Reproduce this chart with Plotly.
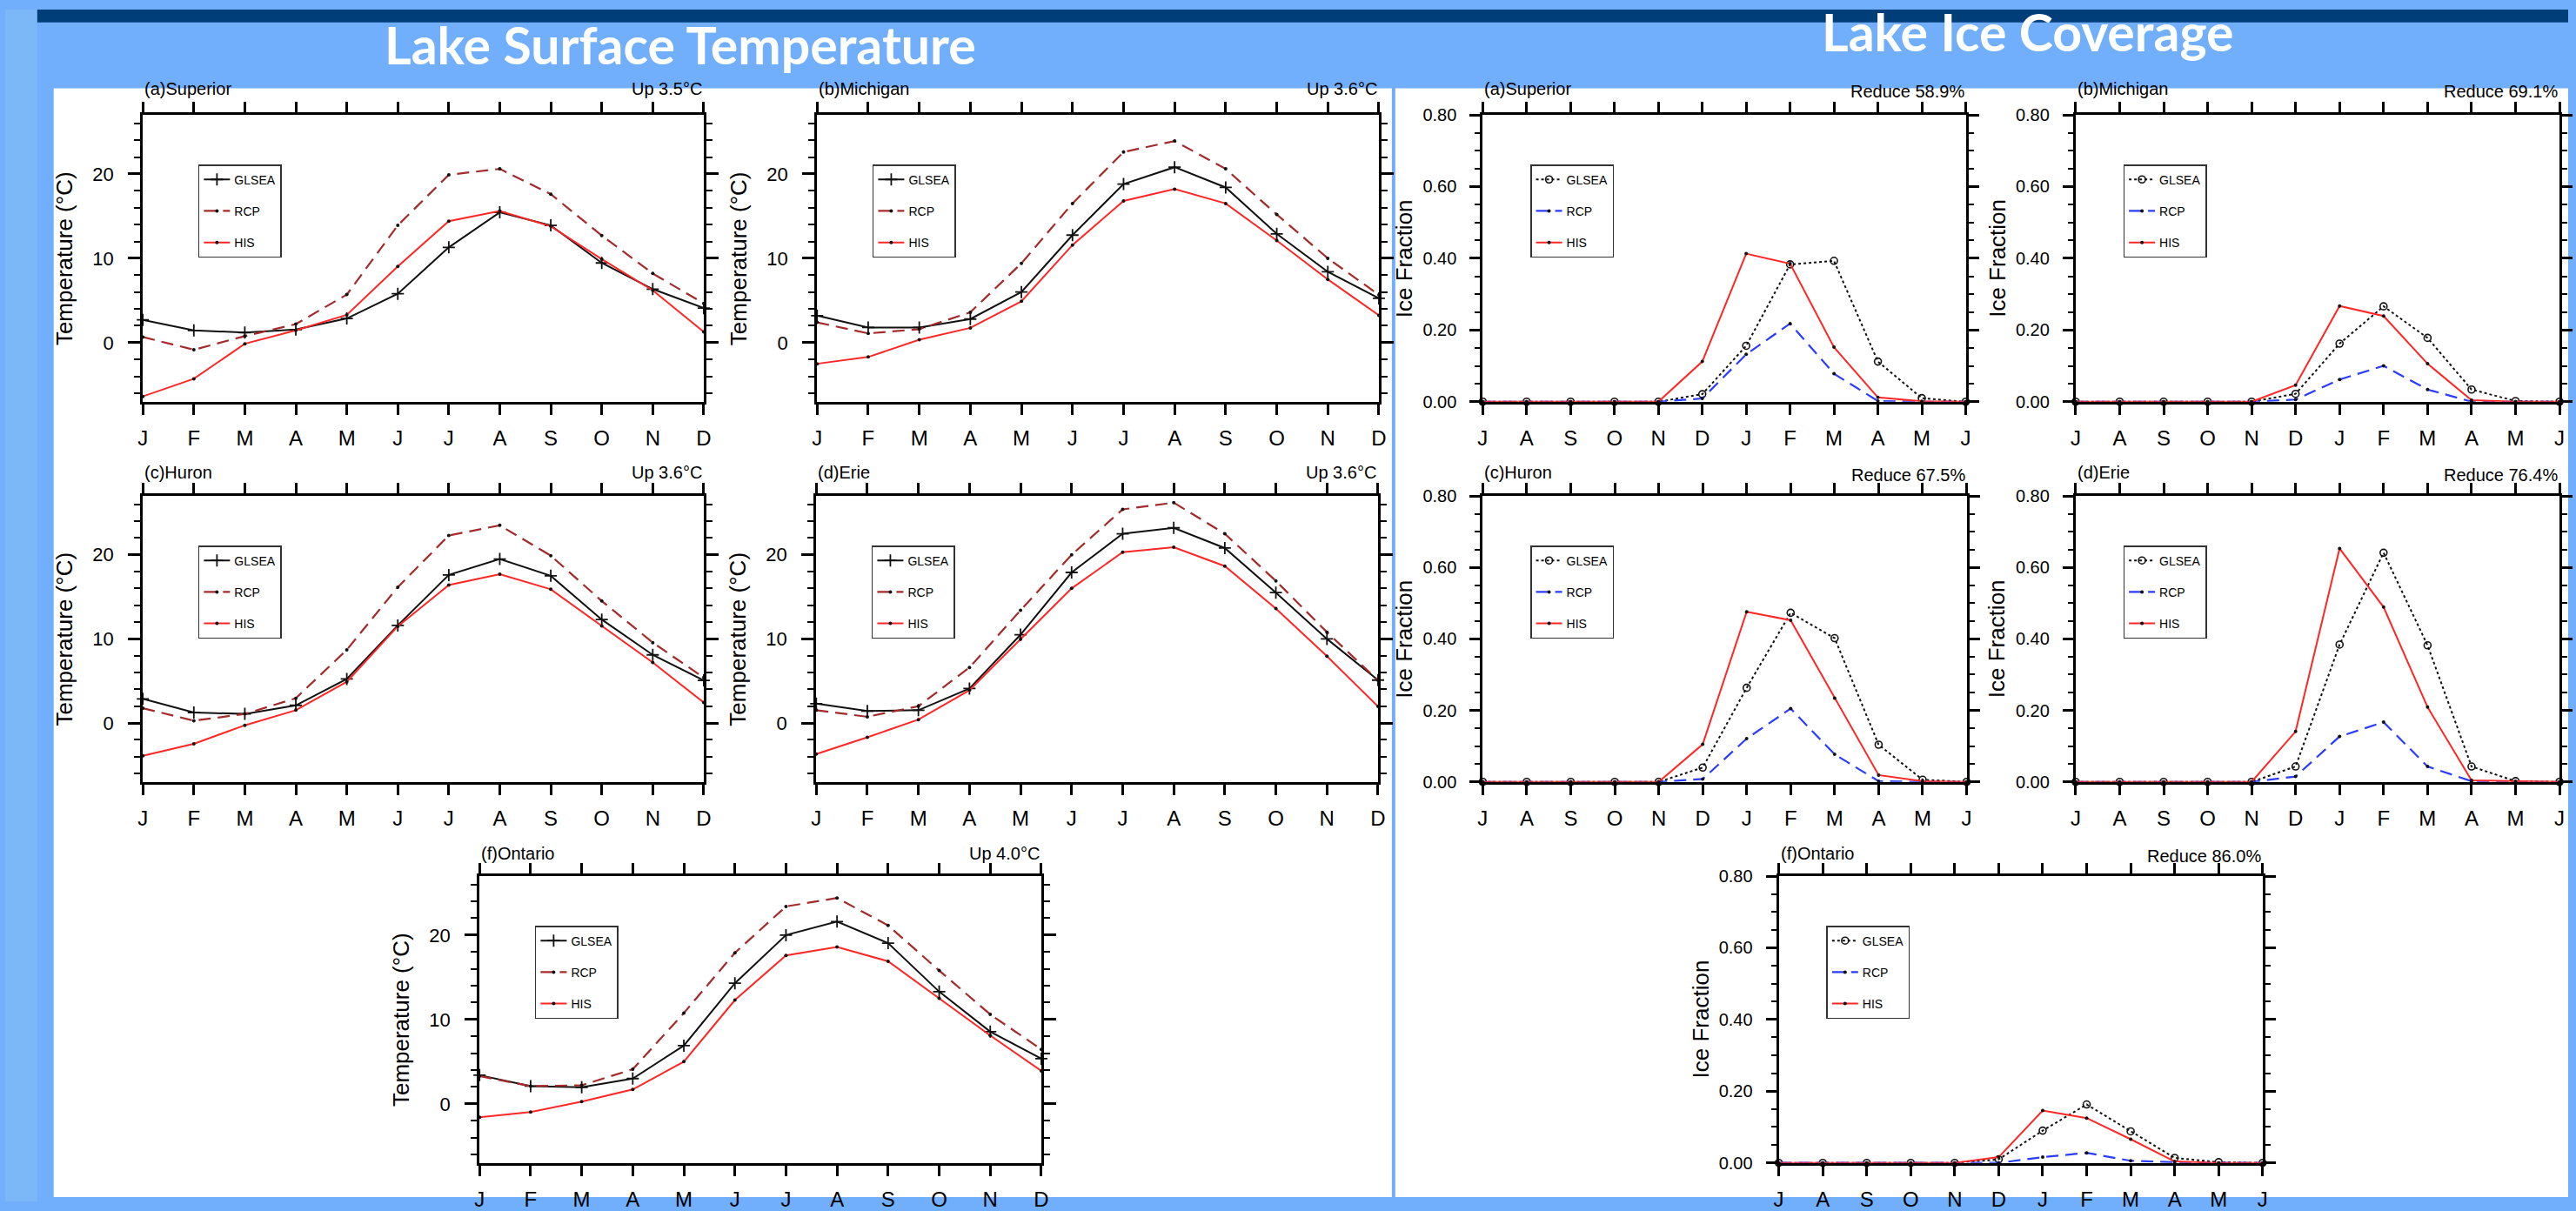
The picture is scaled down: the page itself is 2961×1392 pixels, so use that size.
import plotly.graph_objects as go

W, H = 2961, 1392
FONT = "Liberation Sans"

# ---------------- data ----------------
TEMP_MONTHS = ["J", "F", "M", "A", "M", "J", "J", "A", "S", "O", "N", "D"]
ICE_MONTHS = ["J", "A", "S", "O", "N", "D", "J", "F", "M", "A", "M", "J"]
SERIES = ["GLSEA", "RCP", "HIS"]

SUP_T_GLSEA = [2.7, 1.45, 1.2, 1.55, 2.87, 5.8, 11.3, 15.45, 13.9, 9.45, 6.35, 4.1]
SUP_T_RCP = [0.67, -0.84, 0.78, 2.2, 5.7, 13.9, 19.9, 20.6, 17.6, 12.7, 8.2, 4.65]
SUP_T_HIS = [-6.37, -4.28, -0.13, 1.45, 3.3, 9.04, 14.4, 15.6, 13.8, 9.9, 6.2, 1.28]

MIC_T_GLSEA = [3.2, 1.8, 1.8, 2.8, 6.0, 12.75, 18.8, 20.8, 18.4, 12.9, 8.4, 5.26]
MIC_T_RCP = [2.4, 1.1, 1.6, 3.6, 9.4, 16.5, 22.6, 23.9, 20.6, 15.2, 10.0, 5.67]
MIC_T_HIS = [-2.5, -1.7, 0.34, 1.75, 4.9, 11.57, 16.8, 18.2, 16.5, 12.1, 7.5, 3.24]

HUR_T_GLSEA = [2.87, 1.25, 1.08, 2.1, 5.24, 11.6, 17.6, 19.5, 17.5, 12.3, 8.1, 5.07]
HUR_T_RCP = [1.76, 0.27, 1.08, 2.94, 8.7, 16.15, 22.3, 23.5, 19.9, 14.5, 9.56, 5.4]
HUR_T_HIS = [-3.9, -2.47, -0.27, 1.52, 4.9, 11.5, 16.4, 17.7, 15.9, 11.55, 7.2, 2.43]

ERI_T_GLSEA = [2.3, 1.42, 1.52, 4.1, 10.5, 17.9, 22.5, 23.2, 20.8, 15.5, 10.0, 5.1]
ERI_T_RCP = [1.52, 0.74, 2.0, 6.6, 13.4, 20.0, 25.4, 26.2, 22.5, 16.9, 10.8, 5.07]
ERI_T_HIS = [-3.7, -1.7, 0.4, 3.9, 9.97, 16.0, 20.3, 20.9, 18.65, 13.6, 7.94, 1.96]

ONT_T_GLSEA = [3.4, 2.1, 1.96, 3.0, 6.9, 14.3, 20.0, 21.6, 19.05, 13.3, 8.56, 5.35]
ONT_T_RCP = [3.3, 2.1, 2.2, 4.1, 10.76, 17.9, 23.4, 24.4, 21.15, 15.8, 10.6, 6.46]
ONT_T_HIS = [-1.6, -0.98, 0.27, 1.7, 5.0, 12.3, 17.6, 18.6, 16.9, 12.5, 8.1, 3.9]

SUP_I_GLSEA = [0, 0, 0, 0, 0, 0.021, 0.156, 0.383, 0.393, 0.112, 0.010, 0]
SUP_I_RCP = [0, 0, 0, 0, 0, 0.009, 0.132, 0.218, 0.078, 0.002, 0, 0]
SUP_I_HIS = [0, 0, 0, 0, 0, 0.112, 0.413, 0.385, 0.152, 0.012, 0.001, 0]

MIC_I_GLSEA = [0, 0, 0, 0, 0, 0.022, 0.162, 0.266, 0.178, 0.034, 0.002, 0]
MIC_I_RCP = [0, 0, 0, 0, 0, 0.006, 0.062, 0.100, 0.034, 0, 0, 0]
MIC_I_HIS = [0, 0, 0, 0, 0, 0.046, 0.267, 0.239, 0.106, 0.004, 0, 0]

HUR_I_GLSEA = [0, 0, 0, 0, 0, 0.040, 0.263, 0.473, 0.402, 0.104, 0.006, 0]
HUR_I_RCP = [0, 0, 0, 0, 0, 0.008, 0.121, 0.205, 0.077, 0.002, 0, 0]
HUR_I_HIS = [0, 0, 0, 0, 0, 0.105, 0.476, 0.452, 0.234, 0.019, 0.002, 0]

ERI_I_GLSEA = [0, 0, 0, 0, 0, 0.043, 0.384, 0.641, 0.382, 0.043, 0.002, 0]
ERI_I_RCP = [0, 0, 0, 0, 0, 0.015, 0.127, 0.167, 0.043, 0.002, 0, 0]
ERI_I_HIS = [0, 0, 0, 0, 0, 0.141, 0.653, 0.489, 0.209, 0.004, 0.002, 0]

ONT_I_GLSEA = [0, 0, 0, 0, 0, 0.010, 0.090, 0.163, 0.088, 0.014, 0.002, 0]
ONT_I_RCP = [0, 0, 0, 0, 0, 0, 0.016, 0.028, 0.006, 0.002, 0, 0]
ONT_I_HIS = [0, 0, 0, 0, 0, 0.016, 0.146, 0.125, 0.066, 0.004, 0, 0]

TEMP_LABELS = ["(a)Superior", "(b)Michigan", "(c)Huron", "(d)Erie", "(f)Ontario"]
TEMP_NOTES = ["Up 3.5°C", "Up 3.6°C", "Up 3.6°C", "Up 3.6°C", "Up 4.0°C"]
ICE_LABELS = ["(a)Superior", "(b)Michigan", "(c)Huron", "(d)Erie", "(f)Ontario"]
ICE_NOTES = ["Reduce 58.9%", "Reduce 69.1%", "Reduce 67.5%", "Reduce 76.4%", "Reduce 86.0%"]

TEMP_DATA = [
    (SUP_T_GLSEA, SUP_T_RCP, SUP_T_HIS),
    (MIC_T_GLSEA, MIC_T_RCP, MIC_T_HIS),
    (HUR_T_GLSEA, HUR_T_RCP, HUR_T_HIS),
    (ERI_T_GLSEA, ERI_T_RCP, ERI_T_HIS),
    (ONT_T_GLSEA, ONT_T_RCP, ONT_T_HIS),
]
ICE_DATA = [
    (SUP_I_GLSEA, SUP_I_RCP, SUP_I_HIS),
    (MIC_I_GLSEA, MIC_I_RCP, MIC_I_HIS),
    (HUR_I_GLSEA, HUR_I_RCP, HUR_I_HIS),
    (ERI_I_GLSEA, ERI_I_RCP, ERI_I_HIS),
    (ONT_I_GLSEA, ONT_I_RCP, ONT_I_HIS),
]

# ---------------- layout geometry (pixels) ----------------
TEMP_BOXES = [(159, 807, 123, 458), (938, 1587, 123, 458), (159, 807, 568, 902),
              (937, 1586, 568, 902), (548, 1197, 1012, 1347)]
ICE_BOXES = [(1707, 2265, 123, 458), (2392, 2951, 123, 458), (1707, 2266, 568, 902),
             (2392, 2951, 568, 902), (2049, 2608, 1012, 1347)]
LABEL_SHIFT = [17, 17, 14, 14, 13]

BLACK = "#111111"
BROWN = "#a52a2a"
RED = "#ff2626"
BLUE = "#2b3cff"


def dom(box):
    x0, x1, y0, y1 = box
    return [x0 / W, x1 / W], [1 - y1 / H, 1 - y0 / H]


fig = go.Figure()
layout = {}
annotations = []

panels = [("temp", k) for k in range(5)] + [("ice", k) for k in range(5)]

for i, (kind, k) in enumerate(panels, start=1):
    xname = "x" if i == 1 else f"x{i}"
    yname = "y" if i == 1 else f"y{i}"
    lname = "legend" if i == 1 else f"legend{i}"
    box = TEMP_BOXES[k] if kind == "temp" else ICE_BOXES[k]
    xd, yd = dom(box)
    months = TEMP_MONTHS if kind == "temp" else ICE_MONTHS
    xs = list(range(len(months)))
    g, r, h = TEMP_DATA[k] if kind == "temp" else ICE_DATA[k]

    if kind == "temp":
        fig.add_trace(go.Scatter(
            x=xs, y=g, name=SERIES[0], mode="lines+markers",
            line=dict(color=BLACK, width=2),
            marker=dict(symbol="cross-thin", size=10, line=dict(width=1.8, color=BLACK)),
            xaxis=xname, yaxis=yname, legend=lname, legendgroup=f"{i}a", cliponaxis=False))
        fig.add_trace(go.Scatter(
            x=xs, y=r, name=SERIES[1], mode="lines+markers",
            line=dict(color=BROWN, width=2.2, dash="14px,8px"),
            marker=dict(symbol="circle", size=4, color=BLACK),
            xaxis=xname, yaxis=yname, legend=lname, legendgroup=f"{i}b", cliponaxis=False))
    else:
        fig.add_trace(go.Scatter(
            x=xs, y=g, name=SERIES[0], mode="lines+markers",
            line=dict(color=BLACK, width=2, dash="dot"),
            marker=dict(symbol="circle-open", size=8, line=dict(width=1.6, color="#222222")),
            xaxis=xname, yaxis=yname, legend=lname, legendgroup=f"{i}a", cliponaxis=False))
        fig.add_trace(go.Scatter(
            x=xs, y=r, name=SERIES[1], mode="lines+markers",
            line=dict(color=BLUE, width=2.2, dash="14px,8px"),
            marker=dict(symbol="circle", size=4, color=BLACK),
            xaxis=xname, yaxis=yname, legend=lname, legendgroup=f"{i}b", cliponaxis=False))
    fig.add_trace(go.Scatter(
        x=xs, y=h, name=SERIES[2], mode="lines+markers",
        line=dict(color=RED, width=2),
        marker=dict(symbol="circle", size=4, color=BLACK),
        xaxis=xname, yaxis=yname, legend=lname, legendgroup=f"{i}c", cliponaxis=False))

    xkey = "xaxis" if i == 1 else f"xaxis{i}"
    ykey = "yaxis" if i == 1 else f"yaxis{i}"
    layout[xkey] = dict(
        domain=xd, anchor=yname, range=[0, len(months) - 1],
        tickmode="array", tickvals=xs, ticktext=months,
        ticks="outside", ticklen=12, tickwidth=2.5, tickcolor="black",
        showline=True, linewidth=3, linecolor="black", mirror="ticks",
        showgrid=False, zeroline=False, ticklabelstandoff=6,
        tickfont=dict(family=FONT, size=24, color="black"), fixedrange=True)
    if kind == "temp":
        layout[ykey] = dict(
            domain=yd, anchor=xname, range=[-7, 27],
            tickmode="array", tickvals=[0, 10, 20],
            ticks="outside", ticklen=14, tickwidth=2.5, tickcolor="black",
            minor=dict(ticks="outside", ticklen=7, tickwidth=2, dtick=2, tick0=0, tickcolor="black"),
            showline=True, linewidth=3, linecolor="black", mirror="ticks",
            showgrid=False, zeroline=False, ticklabelstandoff=12,
            tickfont=dict(family=FONT, size=22, color="black"), fixedrange=True)
        ytitle = "Temperature (°C)"
        label, note = TEMP_LABELS[k], TEMP_NOTES[k]
    else:
        layout[ykey] = dict(
            domain=yd, anchor=xname, range=[0, 0.8],
            tickmode="array", tickvals=[0, 0.2, 0.4, 0.6, 0.8], tickformat=".2f",
            ticks="outside", ticklen=12, tickwidth=2.5, tickcolor="black",
            minor=dict(ticks="outside", ticklen=6, tickwidth=2, dtick=0.05, tick0=0, tickcolor="black"),
            showline=True, linewidth=3, linecolor="black", mirror="ticks",
            showgrid=False, zeroline=False, ticklabelstandoff=11,
            tickfont=dict(family=FONT, size=20, color="black"), fixedrange=True)
        ytitle = "Ice Fraction"
        label, note = ICE_LABELS[k], ICE_NOTES[k]

    x0, x1, y0, y1 = box
    layout[lname] = dict(
        x=(x0 + (64 if kind == "temp" else 55)) / W, y=1 - (y0 + 58) / H,
        xref="paper", yref="paper", xanchor="left", yanchor="top",
        bgcolor="white", bordercolor="#333333", borderwidth=1.5,
        font=dict(family=FONT, size=14, color="black"),
        tracegroupgap=15, traceorder="grouped")

    annotations.append(dict(
        text=label, xref=f"{xname} domain", yref=f"{yname} domain", x=0, y=1,
        xanchor="left", yanchor="bottom", yshift=LABEL_SHIFT[k], showarrow=False,
        font=dict(family=FONT, size=20, color="black")))
    annotations.append(dict(
        text=note, xref=f"{xname} domain", yref=f"{yname} domain", x=1, y=1,
        xanchor="right", yanchor="bottom", yshift=LABEL_SHIFT[k] - (3 if kind == "ice" else 0),
        showarrow=False, font=dict(family=FONT, size=20, color="black")))
    annotations.append(dict(
        text=ytitle, xref=f"{xname} domain", yref=f"{yname} domain", x=0, y=0.5,
        xshift=-90, xanchor="center", yanchor="middle", textangle=-90, showarrow=False,
        font=dict(family=FONT, size=26, color="black")))

annotations.append(dict(
    text="Lake Surface Temperature", xref="paper", yref="paper", x=780 / W, y=1 - 41 / H,
    xanchor="center", yanchor="middle", showarrow=False,
    font=dict(family="Lato", size=59, color="white", weight="bold")))
annotations.append(dict(
    text="Lake Ice Coverage", xref="paper", yref="paper", x=2337 / W, y=1 - 26 / H,
    xanchor="center", yanchor="middle", showarrow=False,
    font=dict(family="Lato", size=59, color="white", weight="bold")))


def prect(x0, x1, y0, y1, color):
    return dict(type="rect", xref="paper", yref="paper", x0=x0 / W, x1=x1 / W,
                y0=1 - y1 / H, y1=1 - y0 / H, fillcolor=color, line=dict(width=0), layer="below")


shapes = [
    prect(0, 37, 0, H, "#7cb8f7"),
    prect(37, W, 0, 15, "#003e7a"),
    prect(56, 1602, 92, 1387, "white"),
    prect(1606, W, 92, 1387, "white"),
]

fig.update_layout(
    width=W, height=H, margin=dict(l=0, r=0, t=0, b=0),
    paper_bgcolor="#71affd", plot_bgcolor="white",
    showlegend=True, annotations=annotations, shapes=shapes,
    **layout)

fig.write_html(
    "out.html",
    config={"displayModeBar": False},
    post_script="document.body.style.margin='0';document.body.style.overflow='hidden';")
